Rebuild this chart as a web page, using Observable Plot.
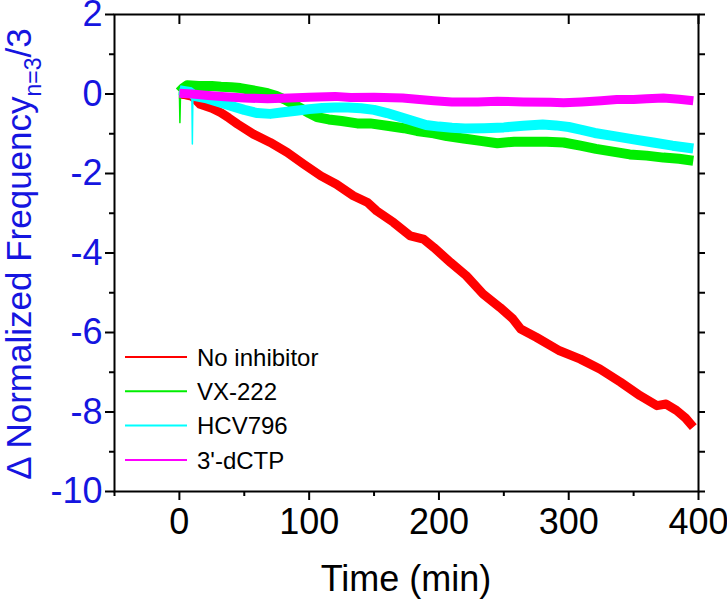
<!DOCTYPE html>
<html><head><meta charset="utf-8">
<script src="https://cdn.jsdelivr.net/npm/d3@7"></script>
<script src="https://cdn.jsdelivr.net/npm/@observablehq/plot@0.6"></script>
<style>body{margin:0;background:#fff;} #chart svg{display:block;}</style>
</head><body><div id="chart"></div>
<script>
const seriesNames = ["No inhibitor", "VX-222", "HCV796", "3'-dCTP"];
const seriesColors = ["#ff0000", "#00ee00", "#00ffff", "#ff00ff"];

// No inhibitor (red)
const noInhT = [0, 5, 10, 16, 25, 32, 38, 45, 57, 70, 83, 96, 109, 121, 134, 145, 152, 165, 178, 188, 196, 209, 221, 234, 247, 257, 263, 275, 293, 309, 324, 340, 355, 368, 375, 383, 390, 396];
const noInhV = [0, -0.02, -0.06, -0.26, -0.36, -0.47, -0.6, -0.76, -1.01, -1.22, -1.47, -1.77, -2.06, -2.27, -2.56, -2.73, -2.94, -3.23, -3.57, -3.65, -3.86, -4.24, -4.57, -5.03, -5.37, -5.66, -5.91, -6.12, -6.46, -6.67, -6.92, -7.25, -7.59, -7.84, -7.8, -7.96, -8.15, -8.38];

// VX-222 (green)
const vxT = [0, 3, 6, 15, 25, 32, 40, 47, 55, 62, 68, 75, 82, 88, 93, 100, 106, 115, 125, 137, 147, 160, 173, 183, 196, 206, 219, 232, 245, 258, 270, 283, 296, 309, 321, 334, 347, 360, 373, 385, 396];
const vxV = [0.05, 0.15, 0.22, 0.2, 0.2, 0.18, 0.17, 0.15, 0.1, 0.06, 0.02, -0.05, -0.15, -0.25, -0.35, -0.48, -0.58, -0.64, -0.68, -0.74, -0.74, -0.8, -0.86, -0.93, -0.99, -1.06, -1.12, -1.18, -1.24, -1.2, -1.2, -1.2, -1.22, -1.3, -1.38, -1.45, -1.52, -1.55, -1.6, -1.63, -1.68];
const vxSpikeT = [0, 0.4, 0.9];
const vxSpikeV = [0.05, -0.72, 0.05];

// HCV796 (cyan)
const hcvT = [0, 3, 8, 12, 20, 30, 40, 50, 60, 70, 80, 90, 100, 110, 120, 130, 140, 150, 160, 170, 180, 190, 200, 210, 220, 235, 250, 265, 280, 290, 300, 310, 320, 335, 350, 365, 380, 396];
const hcvV = [0.1, 0.08, 0.05, -0.05, -0.1, -0.2, -0.3, -0.4, -0.48, -0.5, -0.46, -0.42, -0.38, -0.35, -0.34, -0.34, -0.36, -0.4, -0.48, -0.58, -0.68, -0.78, -0.82, -0.85, -0.87, -0.86, -0.84, -0.8, -0.77, -0.79, -0.83, -0.9, -0.98, -1.06, -1.14, -1.22, -1.3, -1.37];
const hcvSpikeT = [9.6, 10, 10.4];
const hcvSpikeV = [-0.05, -1.26, -0.05];

// 3'-dCTP (magenta)
const dctpT = [0, 10, 20, 35, 50, 68, 85, 100, 120, 132, 150, 172, 185, 196, 210, 230, 245, 265, 286, 296, 310, 325, 337, 350, 360, 373, 385, 396];
const dctpV = [0.02, 0, -0.03, -0.07, -0.1, -0.12, -0.1, -0.08, -0.06, -0.09, -0.08, -0.1, -0.14, -0.17, -0.2, -0.2, -0.18, -0.2, -0.21, -0.22, -0.2, -0.17, -0.14, -0.14, -0.12, -0.1, -0.13, -0.17];

const xMajorTicks = [0, 100, 200, 300, 400];
const xMinorTicks = [-50, 50, 150, 250, 350];
const yMajorTicks = [2, 0, -2, -4, -6, -8, -10];
const yMinorTicks = [1, -1, -3, -5, -7, -9];
const yAllTicks = [2, 1, 0, -1, -2, -3, -4, -5, -6, -7, -8, -9, -10];
const xTitle = "Time (min)";
const yTitleMain = "\u0394 Normalized Frequency";
const yTitleSub = "n=3";
const yTitleEnd = "/3";

const blue = "#1515e0";

function rows(ts, vs) { return ts.map((t, i) => ({t, v: vs[i]})); }

const seriesData = [rows(noInhT, noInhV), rows(vxT, vxV), rows(hcvT, hcvV), rows(dctpT, dctpV)];
const spikeData = [null, rows(vxSpikeT, vxSpikeV), rows(hcvSpikeT, hcvSpikeV), null];
const widths = [9, 10, 10, 9];

const lineMarks = [];
seriesData.forEach((d, i) => {
  lineMarks.push(Plot.line(d, {x: "t", y: "v", stroke: seriesColors[i], strokeWidth: widths[i], strokeLinejoin: "round", strokeLinecap: "butt"}));
  if (spikeData[i]) lineMarks.push(Plot.line(spikeData[i], {x: "t", y: "v", stroke: seriesColors[i], strokeWidth: 1.5}));
});

const chart = Plot.plot({
  width: 727, height: 600,
  marginLeft: 114, marginRight: 29, marginTop: 14, marginBottom: 109,
  x: {domain: [-50, 400]},
  y: {domain: [-10, 2]},
  style: {fontFamily: "Liberation Sans, Arial, sans-serif", fontSize: "36px", background: "white", overflow: "visible"},
  marks: [
    ...lineMarks,
    Plot.frame({stroke: "black", strokeWidth: 2}),
    Plot.axisX({ticks: xMajorTicks, tickSize: 9, tickPadding: 8, tickFormat: d => String(d), label: null, strokeWidth: 2, fill: "black", fontSize: 36}),
    Plot.axisX({ticks: xMinorTicks, tickSize: 5, tickFormat: () => "", label: null, strokeWidth: 2}),
    Plot.axisX({anchor: "top", ticks: xMajorTicks, tickSize: -9, tickFormat: () => "", label: null, strokeWidth: 2}),
    Plot.axisY({ticks: yMajorTicks, tickSize: 9, tickPadding: 3, tickFormat: d => String(d), label: null, strokeWidth: 2, stroke: "black", fill: blue, fontSize: 36}),
    Plot.axisY({ticks: yMinorTicks, tickSize: 5, tickFormat: () => "", label: null, strokeWidth: 2}),
    Plot.axisY({anchor: "right", ticks: yAllTicks, tickSize: 6, tickFormat: () => "", label: null, strokeWidth: 2})
  ]
});

document.getElementById("chart").appendChild(chart);

const svg = d3.select(chart);
const font = "Liberation Sans, Arial, sans-serif";

// X title
svg.append("text")
  .attr("x", 406).attr("y", 591)
  .attr("text-anchor", "middle")
  .attr("font-family", font).attr("font-size", 36).attr("fill", "black")
  .text(xTitle);

// Y title
const yt = svg.append("text")
  .attr("transform", "translate(31,254) rotate(-90)")
  .attr("text-anchor", "middle")
  .attr("font-family", font).attr("font-size", 35).attr("fill", blue);
yt.append("tspan").text(yTitleMain);
yt.append("tspan").attr("font-size", 23).attr("dy", 10).text(yTitleSub);
yt.append("tspan").attr("font-size", 35).attr("dy", -10).text(yTitleEnd);

// Legend
const lg = svg.append("g");
seriesNames.forEach((name, i) => {
  const yy = 357 + i * 34.3;
  lg.append("line").attr("x1", 125).attr("x2", 187).attr("y1", yy).attr("y2", yy)
    .attr("stroke", seriesColors[i]).attr("stroke-width", 2);
  lg.append("text").attr("x", 197).attr("y", yy).attr("dy", "0.36em")
    .attr("text-anchor", "start")
    .attr("font-family", font).attr("font-size", 24).attr("fill", "black").text(name);
});
</script>
</body></html>
